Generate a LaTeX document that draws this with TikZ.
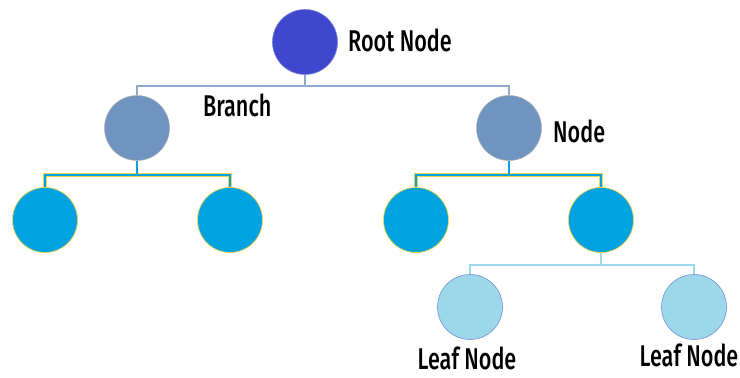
\documentclass[tikz,border=0pt]{standalone}
\usepackage{fontspec}
\setmainfont[FakeStretch=0.72]{Fira Sans Medium}
\begin{document}
\begin{tikzpicture}[x=1pt,y=-1pt,
  rootc/.style={circle,minimum size=65pt,inner sep=0pt,fill=rootblue,draw=rootblue!70!white,line width=0.6pt},
  branchc/.style={circle,minimum size=65pt,inner sep=0pt,fill=branchblue,draw=gray!60,line width=0.6pt},
  midc/.style={circle,minimum size=65pt,inner sep=0pt,fill=midblue,draw=edgeyellow,line width=0.7pt},
  leafc/.style={circle,minimum size=65pt,inner sep=0pt,fill=leafblue,draw=leafedge,line width=0.6pt},
  lbl/.style={font=\fontsize{30}{30}\selectfont,text=black,inner sep=0pt},
  topline/.style={draw=topgray,line width=1.4pt},
  midline/.style={draw=midblue,line width=2.6pt},
  midunder/.style={draw=edgeyellow,line width=3.4pt},
  leafline/.style={draw=leafblue,line width=2pt}]
\definecolor{rootblue}{HTML}{3F48CC}
\definecolor{branchblue}{HTML}{7094C0}
\definecolor{midblue}{HTML}{00A3E2}
\definecolor{edgeyellow}{HTML}{F2D24A}
\definecolor{leafblue}{HTML}{9DD8EA}
\definecolor{leafedge}{HTML}{6F90D6}
\definecolor{topgray}{HTML}{8FAACF}

\useasboundingbox[fill=white] (0,0) rectangle (740,378);

% circles
\node[rootc] (root) at (305,42) {};
\node[branchc] (bl) at (137,128) {};
\node[branchc] (br) at (509,128) {};
\node[midc] (m1) at (45,220) {};
\node[midc] (m2) at (230,220) {};
\node[midc] (m3) at (416,220) {};
\node[midc] (m4) at (601,220) {};
\node[leafc] (l1) at (470,307) {};
\node[leafc] (l2) at (694,307) {};

% bus levels
\coordinate (bus0) at (0,86);
\coordinate (bus1) at (0,175);
\coordinate (bus2) at (0,265);

% connectors root -> branches
\draw[topline] (root.south) -- (root.south |- bus0) -| (bl.north);
\draw[topline] (root.south |- bus0) -| (br.north);

% connectors branches -> middle level
\foreach \p/\a/\b in {bl/m1/m2, br/m3/m4}{
  \draw[midunder,yshift=-0.6pt] (\p.south |- bus1) -| (\a.north);
  \draw[midunder,yshift=-0.6pt] (\p.south |- bus1) -| (\b.north);
  \draw[midline] (\p.south) -- (\p.south |- bus1) -| (\a.north);
  \draw[midline] (\p.south |- bus1) -| (\b.north);
}

% connectors to leaves
\draw[leafline] (m4.south) -- (m4.south |- bus2) -| (l1.north);
\draw[leafline] (m4.south |- bus2) -| (l2.north);

% labels
\node[lbl,anchor=west] (troot) at (348,40) {Root Node};
\node[lbl,anchor=west] (tbranch) at (203,105) {Branch};
\node[lbl,anchor=west] (tnode) at (553,131) {Node};
\node[lbl] (tleaf1) at (467,358) {Leaf Node};
\node[lbl] (tleaf2) at (689,355) {Leaf Node};
\end{tikzpicture}
\end{document}
